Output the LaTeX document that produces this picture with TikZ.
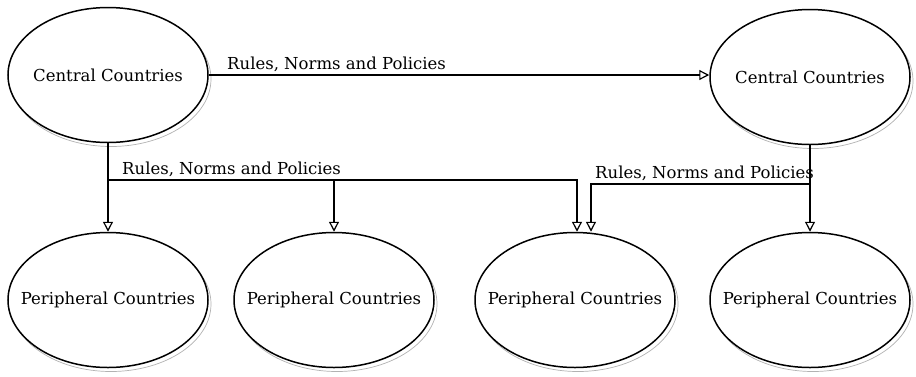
\documentclass[tikz,border=0pt]{standalone}
\usepackage{fontspec}
\setmainfont{DejaVu Serif}
\usetikzlibrary{shapes.geometric,arrows.meta,shadows}
\tikzset{
	country/.style={ellipse,draw,line width=1.5pt,fill=white,inner xsep=-20pt,inner ysep=0pt,
		minimum width=200pt,minimum height=135pt,font=\fontsize{16.5}{18}\selectfont,
		copy shadow={shadow xshift=3pt,shadow yshift=-4pt,draw=gray!60,line width=0.7pt,fill=white}},
	rules/.style={font=\fontsize{16.5}{18}\selectfont,inner sep=1pt},
	flow/.style={line width=1.2pt,-{Triangle[open,length=10pt,width=10pt]}}
}
\begin{document}
\begin{tikzpicture}[x=1pt,y=-1pt]
	\useasboundingbox (0,0) rectangle (916,376);
	\draw (108,75) node[country](cl){Central Countries};
	\draw (810,77) node[country](cr){Central Countries};
	\draw (108,300) node[country](p1){Peripheral Countries};
	\draw (334,300) node[country](p2){Peripheral Countries};
	\draw (575,300) node[country](p3){Peripheral Countries};
	\draw (810,300) node[country](p4){Peripheral Countries};
	\coordinate (jl) at (108,180);
	\coordinate (jr) at (810,184);
	\draw[flow](cl.east)--(cl.east-|cr.west);
	\draw[flow](cl.south)--(p1.north);
	\draw[flow](jl)-|(p2.north);
	\draw[flow](jl)-|([xshift=2pt]p3.north);
	\draw[flow](cr.south)--(p4.north);
	\draw[flow](jr)-|([xshift=16pt]p3.north);
	\draw (226,73) node[rules,anchor=south west]{Rules, Norms and Policies};
	\draw (121,178) node[rules,anchor=south west]{Rules, Norms and Policies};
	\draw (594,182) node[rules,anchor=south west]{Rules, Norms and Policies};
\end{tikzpicture}
\end{document}
